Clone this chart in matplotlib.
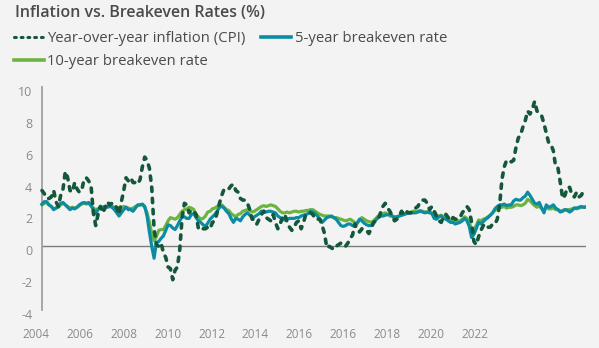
import numpy as np
import matplotlib.pyplot as plt
from matplotlib.lines import Line2D
from matplotlib.transforms import ScaledTranslation

plt.rcParams['font.family'] = ['Open Sans', 'DejaVu Sans']
plt.rcParams['axes.unicode_minus'] = False

# monthly, Nov 2004 .. Apr 2024
cpi = [3.5, 3.3,
       3.0, 3.0, 3.1, 3.5, 2.8, 2.5, 3.2, 3.6, 4.7, 4.3, 3.5, 3.4,
       4.0, 3.6, 3.4, 3.5, 4.2, 4.3, 4.1, 3.8, 2.1, 1.3, 2.0, 2.5,
       2.1, 2.4, 2.8, 2.6, 2.7, 2.7, 2.4, 2.0, 2.8, 3.5, 4.3, 4.1,
       4.3, 4.0, 4.0, 3.9, 4.2, 5.0, 5.6, 5.4, 4.9, 3.7, 1.1, 0.1,
       0.0, 0.2, -0.4, -0.7, -1.3, -1.4, -2.1, -1.5, -1.3, -0.2, 1.8, 2.7,
       2.6, 2.1, 2.3, 2.2, 2.0, 1.1, 1.2, 1.1, 1.1, 1.2, 1.1, 1.5,
       1.6, 2.1, 2.7, 3.2, 3.6, 3.6, 3.6, 3.8, 3.9, 3.5, 3.4, 3.0,
       2.9, 2.9, 2.7, 2.3, 1.7, 1.7, 1.4, 1.7, 2.0, 2.2, 1.8, 1.7,
       1.6, 2.0, 1.5, 1.1, 1.4, 1.8, 2.0, 1.5, 1.2, 1.0, 1.2, 1.5,
       1.6, 1.1, 1.5, 2.0, 2.1, 2.1, 2.0, 1.7, 1.7, 1.7, 1.3, 0.8,
       -0.1, 0.0, -0.1, -0.2, 0.0, 0.1, 0.2, 0.2, 0.0, 0.2, 0.5, 0.7,
       1.4, 1.0, 0.9, 1.1, 1.0, 1.0, 0.8, 1.1, 1.5, 1.6, 1.7, 2.1,
       2.5, 2.7, 2.4, 2.2, 1.9, 1.6, 1.7, 1.9, 2.2, 2.0, 2.2, 2.1,
       2.1, 2.2, 2.4, 2.5, 2.8, 2.9, 2.9, 2.7, 2.3, 2.5, 2.2, 1.9,
       1.6, 1.5, 1.9, 2.0, 1.8, 1.6, 1.8, 1.7, 1.7, 1.8, 2.1, 2.3,
       2.5, 2.3, 1.5, 0.3, 0.1, 0.6, 1.0, 1.3, 1.4, 1.2, 1.2, 1.4,
       1.4, 1.7, 2.6, 4.2, 5.0, 5.4, 5.4, 5.3, 5.4, 6.2, 6.8, 7.0,
       7.5, 7.9, 8.5, 8.3, 8.6, 9.1, 8.5, 8.3, 8.2, 7.7, 7.1, 6.5,
       6.4, 6.0, 5.0, 4.9, 4.0, 3.0, 3.2, 3.7, 3.7, 3.2, 3.1, 3.4,
       3.1, 3.2, 3.5, 3.4]

be5 = [2.65, 2.8,
       2.8, 2.6, 2.5, 2.3, 2.4, 2.5, 2.7, 2.75, 2.6, 2.45, 2.3, 2.4,
       2.35, 2.45, 2.6, 2.7, 2.75, 2.7, 2.75, 2.55, 2.3, 2.05, 2.3, 2.45,
       2.45, 2.5, 2.45, 2.5, 2.45, 2.3, 2.1, 1.9, 2.1, 2.3, 2.45, 2.3,
       2.3, 2.2, 2.4, 2.6, 2.6, 2.65, 2.5, 1.9, 0.9, 0.0, -0.75, 0.25,
       0.3, 0.5, 0.65, 1.0, 1.35, 1.3, 1.15, 1.05, 1.3, 1.6, 1.85, 1.85,
       1.75, 1.75, 2.0, 2.05, 1.8, 1.6, 1.5, 1.35, 1.25, 1.45, 1.7, 1.85,
       2.0, 2.2, 2.45, 2.5, 2.4, 2.2, 2.05, 1.75, 1.5, 1.75, 1.7, 1.6,
       1.85, 2.0, 2.1, 1.95, 1.8, 1.85, 1.95, 2.05, 2.2, 2.2, 2.15, 2.2,
       2.2, 2.15, 2.1, 1.9, 1.8, 1.7, 1.65, 1.7, 1.75, 1.75, 1.75, 1.8,
       1.8, 1.9, 1.95, 2.0, 2.05, 2.2, 2.15, 2.05, 1.9, 1.7, 1.5, 1.65,
       1.8, 1.85, 1.9, 1.8, 1.7, 1.5, 1.3, 1.25, 1.3, 1.4, 1.4, 1.3,
       1.25, 1.45, 1.7, 1.6, 1.45, 1.35, 1.3, 1.3, 1.45, 1.65, 1.8, 1.9,
       1.9, 1.95, 2.0, 2.0, 1.9, 1.8, 1.85, 1.9, 1.95, 2.0, 2.05, 2.1,
       2.1, 2.1, 2.1, 2.15, 2.2, 2.15, 2.1, 2.15, 2.1, 2.05, 1.75, 1.7,
       1.85, 1.9, 1.75, 1.7, 1.6, 1.5, 1.5, 1.4, 1.45, 1.5, 1.6, 1.75,
       1.6, 1.25, 0.55, 0.75, 1.1, 1.5, 1.4, 1.55, 1.7, 1.8, 1.95, 2.1,
       2.35, 2.5, 2.6, 2.6, 2.65, 2.55, 2.6, 2.6, 2.85, 2.95, 2.9, 2.9,
       3.05, 3.15, 3.4, 3.2, 2.95, 2.7, 2.65, 2.75, 2.4, 2.1, 2.6, 2.45,
       2.5, 2.6, 2.4, 2.3, 2.15, 2.2, 2.3, 2.25, 2.15, 2.25, 2.4, 2.4,
       2.45, 2.5, 2.45, 2.45]

be10 = [2.6, 2.7,
        2.75, 2.6, 2.5, 2.35, 2.4, 2.45, 2.6, 2.7, 2.6, 2.5, 2.4, 2.45,
        2.4, 2.45, 2.55, 2.65, 2.7, 2.65, 2.7, 2.55, 2.4, 2.3, 2.35, 2.45,
        2.45, 2.5, 2.5, 2.55, 2.5, 2.45, 2.45, 2.4, 2.45, 2.5, 2.45, 2.4,
        2.35, 2.4, 2.5, 2.55, 2.6, 2.6, 2.45, 2.1, 1.5, 0.8, 0.35, 0.6,
        1.0, 1.05, 1.05, 1.3, 1.6, 1.8, 1.75, 1.7, 1.8, 2.0, 2.2, 2.3,
        2.35, 2.45, 2.4, 2.3, 2.0, 1.85, 1.7, 1.75, 1.9, 2.15, 2.2, 2.35,
        2.4, 2.5, 2.55, 2.6, 2.45, 2.3, 2.25, 2.05, 1.95, 1.85, 2.0, 2.05,
        2.2, 2.25, 2.3, 2.25, 2.15, 2.2, 2.3, 2.4, 2.5, 2.55, 2.5, 2.55,
        2.6, 2.55, 2.5, 2.35, 2.2, 2.1, 2.1, 2.15, 2.1, 2.15, 2.2, 2.2,
        2.15, 2.2, 2.2, 2.25, 2.25, 2.3, 2.3, 2.2, 2.1, 2.0, 1.95, 1.9,
        1.9, 1.9, 1.85, 1.8, 1.8, 1.75, 1.7, 1.65, 1.6, 1.65, 1.7, 1.6,
        1.5, 1.45, 1.65, 1.8, 1.7, 1.6, 1.55, 1.5, 1.6, 1.75, 1.9, 2.0,
        2.05, 2.1, 2.0, 1.9, 1.9, 1.85, 1.85, 1.9, 1.95, 2.0, 2.05, 2.1,
        2.15, 2.2, 2.2, 2.2, 2.25, 2.2, 2.15, 2.15, 2.15, 2.1, 1.95, 1.85,
        1.9, 1.95, 1.85, 1.85, 1.75, 1.6, 1.65, 1.6, 1.6, 1.6, 1.7, 1.85,
        1.75, 1.5, 1.05, 1.1, 1.3, 1.65, 1.6, 1.7, 1.75, 1.85, 1.95, 2.1,
        2.25, 2.35, 2.45, 2.45, 2.5, 2.4, 2.45, 2.45, 2.5, 2.6, 2.6, 2.55,
        2.6, 2.7, 2.95, 2.85, 2.7, 2.55, 2.45, 2.55, 2.35, 2.3, 2.45, 2.35,
        2.35, 2.4, 2.3, 2.3, 2.2, 2.25, 2.3, 2.3, 2.3, 2.35, 2.4, 2.35,
        2.4, 2.45, 2.45, 2.5]

year_labels = ['2004', '2006', '2008', '2010', '2012', '2014',
               '2016', '2016', '2018', '2020', '2022']

c_cpi = '#14573a'
c_5y = '#0c8ca3'
c_10y = '#6db33f'
bg = '#f3f3f3'

months = np.arange(len(cpi))
n_last = months[-1]

fig = plt.figure(figsize=(5.99, 3.48), dpi=100, facecolor=bg)
px = 2.3348  # px per month
left_px = 42 - 4 * px
ax = fig.add_axes([left_px / 599, 1 - 310 / 348, (586 - left_px) / 599, (310 - 87) / 348])
ax.set_facecolor(bg)

ax.plot(months, be10, color=c_10y, lw=2.3, solid_joinstyle='round', zorder=3)
ax.plot(months, be5, color=c_5y, lw=2.3, solid_joinstyle='round', zorder=4)
ax.plot(months, cpi, color=c_cpi, lw=2.6, linestyle=(0, (1.2, 1.9)),
        dash_capstyle='round', zorder=5)
ax.hlines(0, 0, n_last, color='#7a7a7a', lw=1.0, zorder=2)

ax.set_xlim(-4, n_last)
ax.set_ylim(-4, 10)
for s in ['top', 'right', 'bottom']:
    ax.spines[s].set_visible(False)
ax.spines['left'].set_position(('data', 0))
ax.spines['left'].set_color('#a0a0a0')
ax.spines['left'].set_linewidth(1.3)

ax.set_yticks(range(-4, 11, 2))
ax.set_xticks(np.linspace(-2.6, 185.4, len(year_labels)))
ax.set_xticklabels(year_labels)
ax.tick_params(axis='y', length=0, pad=7, labelsize=9, labelcolor='#8a8a8a')
ax.tick_params(axis='x', length=0, pad=13, labelsize=8.5, labelcolor='#8a8a8a')
off = ScaledTranslation(0, -4 / 100, fig.dpi_scale_trans)
for lab in ax.get_yticklabels():
    lab.set_transform(lab.get_transform() + off)

fig.text(15 / 599, 1 - 13 / 348, 'Inflation vs. Breakeven Rates (%)', fontsize=11.5,
         fontweight='semibold', color='#4a4a4a', va='center', ha='left')

handles = [
    Line2D([], [], color=c_cpi, lw=2.2, linestyle=(0, (0.6, 1.6)), dash_capstyle='round'),
    Line2D([], [], color=c_10y, lw=2.6),
    Line2D([], [], color=c_5y, lw=2.6),
]
labels = ['Year-over-year inflation (CPI)', '10-year breakeven rate', '5-year breakeven rate']
leg = fig.legend(handles, labels, loc='upper left', bbox_to_anchor=(14 / 599, 1 - 31 / 348),
                 ncol=2, frameon=False, fontsize=10.7, handlelength=2.0, handletextpad=0.25,
                 columnspacing=1.05, labelspacing=0.55, borderpad=0, borderaxespad=0)
for t in leg.get_texts():
    t.set_color('#4a4a4a')

fig.savefig('out.png', dpi=100, facecolor=bg)
